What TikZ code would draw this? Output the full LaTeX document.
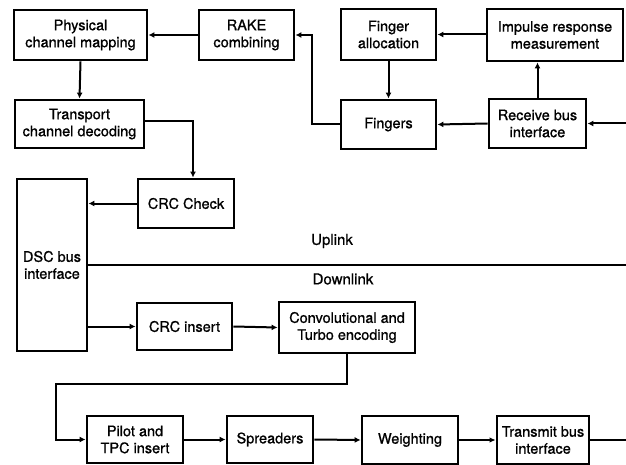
\documentclass[tikz,border=0pt]{standalone}
\usepackage{fontspec}
\setmainfont{TeX Gyre Heros}[FakeBold=1]
\usetikzlibrary{positioning,arrows.meta}

\tikzset{
    blk/.style={draw, line width=2.8pt, align=center, inner sep=0pt,
        font=\fontsize{14.5}{17}\selectfont},
    arr/.style={line width=2pt, -{Latex[length=6pt,width=6pt]}},
    thin arr/.style={line width=1.3pt, -{Latex[length=6pt,width=5.5pt]}},
    lbl/.style={font=\fontsize{15}{18}\selectfont}
}

\begin{document}
\begin{tikzpicture}[x=1pt, y=-1pt]
    \useasboundingbox (0,0) rectangle (626,465);

    % Uplink blocks
    \node[blk, minimum width=133pt, minimum height=50pt] (phys) at (80.5,35) {Physical\\channel mapping};
    \node[blk, minimum width=95pt, minimum height=50pt] (rake) at (246.5,35) {RAKE\\combining};
    \node[blk, minimum width=95pt, minimum height=51pt] (falloc) at (388.5,34.5) {Finger\\allocation};
    \node[blk, minimum width=136pt, minimum height=52pt] (impulse) at (555,35) {Impulse response\\measurement};
    \node[blk, minimum width=129pt, minimum height=48pt] (transport) at (79.5,124) {Transport\\channel decoding};
    \node[blk, minimum width=95pt, minimum height=49pt] (fingers) at (388.5,124.5) {Fingers};
    \node[blk, minimum width=97pt, minimum height=49pt] (rxbus) at (537.5,123.5) {Receive bus\\interface};
    \node[blk, minimum width=96pt, minimum height=49pt] (crccheck) at (186,203.5) {CRC Check};

    % DSC bus interface
    \node[blk, minimum width=70pt, minimum height=172pt] (dsc) at (52,265) {DSC bus\\interface};

    % Downlink blocks
    \node[blk, minimum width=95pt, minimum height=47pt] (crcins) at (184.5,326.5) {CRC insert};
    \node[blk, minimum width=136pt, minimum height=51pt] (conv) at (347,327.5) {Convolutional and\\Turbo encoding};
    \node[blk, minimum width=96pt, minimum height=47pt] (pilot) at (135,439.5) {Pilot and\\TPC insert};
    \node[blk, minimum width=86pt, minimum height=47pt] (spread) at (270,439.5) {Spreaders};
    \node[blk, minimum width=96pt, minimum height=48pt] (weight) at (410,440) {Weighting};
    \node[blk, minimum width=92pt, minimum height=48pt] (txbus) at (543,440) {Transmit bus\\interface};

    % Free ends at the right border
    \coordinate (rxin) at (626,123.5);
    \coordinate (txout) at (626,440);
    \coordinate (split) at (626,265);

    % Uplink / Downlink divider
    \draw[line width=2.4pt] (dsc.east) -- (split);
    \node[lbl] (up) at (332,241) {Uplink};
    \node[lbl] (down) at (343,279) {Downlink};

    % Uplink connectors
    \draw[arr] (rxin) -- (rxbus.east);
    \draw[arr] (rxbus.west) -- (fingers.east);
    \draw[arr] (rxbus.north) -- (rxbus.north |- impulse.south);
    \draw[arr] (impulse.west |- falloc.east) -- (falloc.east);
    \draw[arr] (falloc.south) -- (fingers.north);
    \draw[arr] (fingers.west) -- ++(-28,0) |- (rake.east);
    \draw[arr] (rake.west) -- (phys.east);
    \draw[arr] (phys.south) -- (transport.north);
    \draw[arr] ([yshift=3pt]transport.east) -| ([xshift=7pt]crccheck.north);
    \draw[arr] (crccheck.west) -- (crccheck.west -| dsc.east);

    % Downlink connectors
    \draw[arr] (crcins.west -| dsc.east) -- (crcins.west);
    \draw[arr] (crcins.east) -- (conv.west);
    \draw[arr] (conv.south) -- ++(0,30) -| ([xshift=-30pt]pilot.west) -- (pilot.west);
    \draw[arr] (pilot.east) -- (spread.west);
    \draw[arr] (spread.east) -- (weight.west);
    \draw[thin arr] (weight.east) -- (txbus.west);
    \draw[line width=1.3pt] (txbus.east) -- (txout);
\end{tikzpicture}
\end{document}
